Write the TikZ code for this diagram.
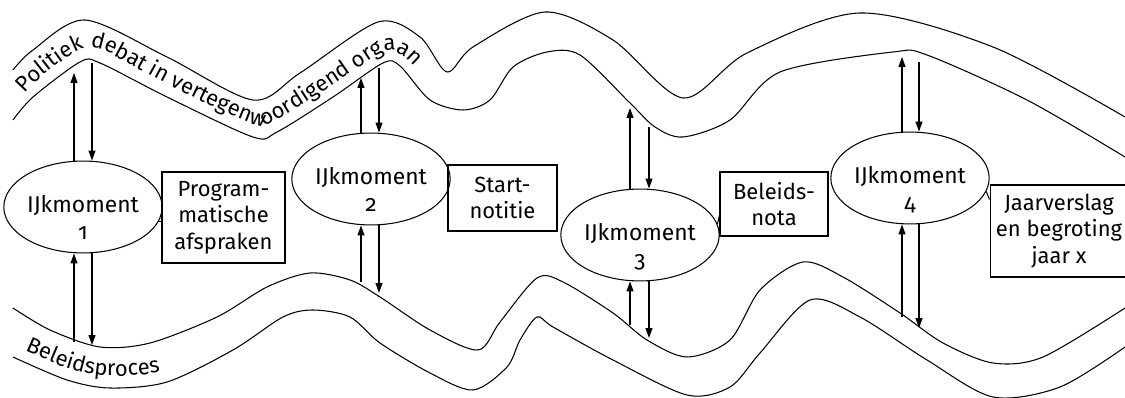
\documentclass[tikz,border=0pt]{standalone}
\usepackage{fontspec}
\setmainfont{Fira Sans}[Numbers=OldStyle]
\usetikzlibrary{arrows.meta,calc,shapes.geometric,decorations.text}
\tikzset{
  >={Triangle[length=2mm,width=1.4mm]},
  ijk/.style={ellipse,draw,minimum width=2.8cm,minimum height=1.8cm,inner sep=0pt,align=center,
    font=\fontsize{13}{15.5}\selectfont,text height=1.3cm,text depth=0pt},
  doc/.style={draw,align=center,inner sep=0pt,font=\fontsize{12.5}{15}\selectfont},
  every picture/.style={line width=0.6pt},
}
\begin{document}
\begin{tikzpicture}[x=0.02cm,y=-0.02cm]
\useasboundingbox (0,0) rectangle (1125,398);
% politiek debat
\draw plot[smooth] coordinates {(13,70) (33,50) (85,20) (167,57) (253,100) (300,73) (378,22) (420,37) (447,72) (473,47) (545,12) (613,40) (683,98) (747,53) (860,13) (993,47) (1125,117)};
\draw plot[smooth] coordinates {(13,120) (33,97) (80,62) (100,63) (167,97) (253,137) (277,132) (333,97) (383,63) (400,66) (430,100) (463,110) (490,100) (513,67) (547,52) (580,55) (630,103) (655,127) (683,137) (730,120) (780,72) (893,52) (927,55) (1027,100) (1125,157)};
\path[decorate,decoration={text along path,text align={left indent=0.34cm},
  text={|\fontsize{12.5}{15}\selectfont|Politiek debat in vertegenwoordigend orgaan}}]
  plot[smooth] coordinates {(13,106) (40,78) (80,50) (105,51) (167,84) (253,124) (280,118) (333,85) (383,52) (400,54) (418,70) (435,92) (463,100) (490,90)};
% beleidsproces
\draw plot[smooth] coordinates {(13,308) (50,330) (100,347) (150,343) (217,317) (267,287) (310,273) (350,280) (380,297) (430,330) (478,350) (500,322) (537,278) (563,282) (613,313) (647,340) (687,357) (730,340) (760,290) (803,262) (843,277) (900,313) (943,343) (993,363) (1043,357) (1125,308)};
\draw plot[smooth] coordinates {(13,357) (67,380) (110,388) (167,382) (233,350) (283,317) (313,310) (350,317) (380,343) (430,373) (473,390) (507,367) (520,340) (537,317) (553,327) (613,360) (687,395) (730,387) (760,353) (810,300) (860,317) (927,360) (993,397) (1060,387) (1125,347)};
\path[decorate,decoration={text along path,text align={left indent=0.26cm},
  text={|\fontsize{12.5}{15}\selectfont|Beleidsproces}}]
  plot[smooth] coordinates {(13,345) (67,368) (110,376) (167,370) (233,338)};
% ijkmomenten
\node[ijk] (e1) at (83,207) {IJkmoment\\1};
\node[ijk] (e2) at (371,179) {IJkmoment\\2};
\node[ijk] (e3) at (640,235) {IJkmoment\\3};
\node[ijk] (e4) at (910,178) {IJkmoment\\4};
\node[doc,minimum width=2.46cm,minimum height=1.82cm] (b1) at (223.5,217.5) {Program-\\matische\\afspraken};
\node[doc,minimum width=2.18cm,minimum height=1.32cm] (b2) at (502.5,198) {Start-\\notitie};
\node[doc,minimum width=2.16cm,minimum height=1.28cm] (b3) at (774,204) {Beleids-\\nota};
\node[doc,minimum width=2.76cm,minimum height=1.84cm] (b4) at (1059,231) {Jaarverslag\\en begroting\\jaar x};
\draw (e1.-11) -- (e1.-11 -| b1.west); \draw (e2.-7) -- (e2.-7 -| b2.west);
\draw (e3.8) -- ($(b3.west)+(0,11)$); \draw (e4.-10) -- ($(b4.north west)+(0,15)$);
\foreach \i/\xa/\xb/\ta/\tb/\sa/\sb in {1/74/92/73/63/342/345,2/361/379/78/68/282/293,3/630/649/108/127/325/338,4/902/919/57/62/317/328}{
  \coordinate (ta\i) at (\xa,\ta); \coordinate (tb\i) at (\xb,\tb);
  \coordinate (sa\i) at (\xa,\sa); \coordinate (sb\i) at (\xb,\sb);
  \draw[->] (e\i.north -| ta\i) -- (ta\i); \draw[->] (tb\i) -- (e\i.north -| tb\i);
  \draw[->] (sa\i) -- (e\i.south -| sa\i); \draw[->] (e\i.south -| sb\i) -- (sb\i);
}
\end{tikzpicture}
\end{document}
